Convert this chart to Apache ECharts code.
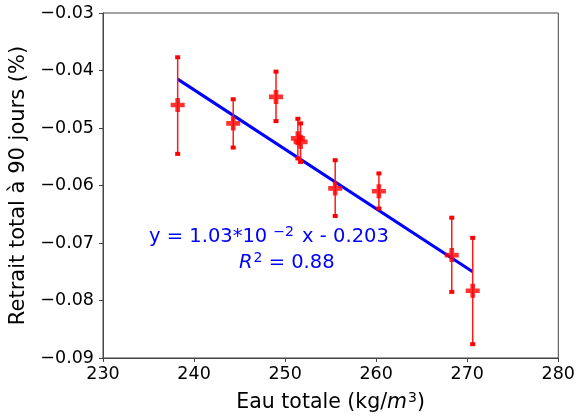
<!DOCTYPE html>
<html><head><meta charset="utf-8">
<script src="https://cdn.jsdelivr.net/npm/echarts@6/dist/echarts.min.js"></script>
<style>html,body{margin:0;padding:0;background:#fff}#c{width:578px;height:418px}</style>
</head><body><div id="c"></div>
<script>
const xVals = [238.2, 244.3, 249.0, 251.4, 251.7, 255.5, 260.3, 268.3, 270.6];
const yVals = [-0.0460, -0.0492, -0.0446, -0.0518, -0.0524, -0.0605, -0.0610, -0.0721, -0.0783];
const yLow  = [-0.0545, -0.0534, -0.0488, -0.0553, -0.0559, -0.0653, -0.0640, -0.0785, -0.0876];
const yHigh = [-0.0377, -0.0450, -0.0402, -0.0484, -0.0492, -0.0556, -0.0579, -0.0656, -0.0691];
const fitX = [238.2, 270.6];
const fitY = [-0.0415, -0.0750];
const xTicks = [230, 240, 250, 260, 270, 280];
const yTicks = [-0.09, -0.08, -0.07, -0.06, -0.05, -0.04, -0.03];

const FONT = 'DejaVu Sans';
const points = xVals.map((x, i) => [x, yVals[i]]);
const errData = xVals.map((x, i) => [x, yLow[i], yHigh[i]]);
const fitData = fitX.map((x, i) => [x, fitY[i]]);
const plus = 'path://M4,0H8V4H12V8H8V12H4V8H0V4H4Z';

const chart = echarts.init(document.getElementById('c'), null, {renderer: 'canvas'});
chart.setOption({
  animation: false,
  backgroundColor: '#fff',
  grid: {left: 103, right: 18, top: 13, bottom: 59, show: true, borderColor: '#444', borderWidth: 1},
  xAxis: {
    type: 'value', min: xTicks[0], max: xTicks[xTicks.length - 1], interval: 10,
    axisLine: {show: true, onZero: false, lineStyle: {color: '#444', width: 1}},
    axisTick: {show: true, length: 4, lineStyle: {color: '#444'}},
    splitLine: {show: false},
    axisLabel: {color: '#000', fontFamily: FONT, fontSize: 17.5, margin: 7},
    name: '{n|Eau totale (kg/}{i|m}{s|3}{n|)}',
    nameLocation: 'middle', nameGap: 33,
    nameTextStyle: {
      rich: {
        n: {fontFamily: FONT, fontSize: 20.5, color: '#000'},
        i: {fontFamily: FONT, fontSize: 20.5, fontStyle: 'italic', color: '#000'},
        s: {fontFamily: FONT, fontSize: 14, color: '#000', verticalAlign: 'top', padding: [0, 0, 9, 1]}
      }
    }
  },
  yAxis: {
    type: 'value', min: yTicks[0], max: yTicks[yTicks.length - 1], interval: 0.01,
    axisLine: {show: true, onZero: false, lineStyle: {color: '#444', width: 1}},
    axisTick: {show: true, length: 4, lineStyle: {color: '#444'}},
    splitLine: {show: false},
    axisLabel: {
      color: '#000', fontFamily: FONT, fontSize: 17.5, margin: 9,
      formatter: v => (v < 0 ? '\u2212' : '') + Math.abs(v).toFixed(2)
    },
    name: 'Retrait total à 90 jours (%)',
    nameLocation: 'middle', nameGap: 72, nameRotate: 90,
    nameTextStyle: {fontFamily: FONT, fontSize: 21, color: '#000'}
  },
  series: [
    {
      type: 'line', data: fitData, symbol: 'none', z: 2,
      lineStyle: {color: '#0000ff', width: 3}
    },
    {
      type: 'custom', data: errData, z: 3,
      encode: {x: 0, y: [1, 2]},
      renderItem: (params, api) => {
        const x = api.value(0);
        const lo = api.coord([x, api.value(1)]);
        const hi = api.coord([x, api.value(2)]);
        const st = {fill: '#ff0000'};
        return {
          type: 'group',
          children: [
            {type: 'line', shape: {x1: lo[0], y1: lo[1], x2: hi[0], y2: hi[1]}, style: {stroke: '#ff1a1a', lineWidth: 1.5}},
            {type: 'rect', shape: {x: lo[0] - 2.5, y: lo[1] - 2, width: 5, height: 4}, style: st},
            {type: 'rect', shape: {x: hi[0] - 2.5, y: hi[1] - 2, width: 5, height: 4}, style: st}
          ]
        };
      }
    },
    {
      type: 'scatter', data: points, symbol: plus, symbolSize: 14, z: 4,
      itemStyle: {color: '#ff0000'}
    }
  ],
  graphic: [
    {
      type: 'text', left: 149, top: 225, z: 10,
      style: {
        text: '{t|y = 1.03*10}{s|\u22122}{t| x - 0.203}',
        rich: {
          t: {fontFamily: FONT, fontSize: 19.5, fill: '#0000ff'},
          s: {fontFamily: FONT, fontSize: 14, fill: '#0000ff', verticalAlign: 'top', padding: [0, 2, 9, 6]}
        }
      }
    },
    {
      type: 'text', left: 239, top: 251, z: 10,
      style: {
        text: '{i|R}{s|2}{t| = 0.88}',
        rich: {
          t: {fontFamily: FONT, fontSize: 19.5, fill: '#0000ff'},
          i: {fontFamily: FONT, fontSize: 19.5, fontStyle: 'italic', fill: '#0000ff'},
          s: {fontFamily: FONT, fontSize: 14, fill: '#0000ff', verticalAlign: 'top', padding: [0, 0, 9, 1]}
        }
      }
    }
  ]
});
</script>
</body></html>
